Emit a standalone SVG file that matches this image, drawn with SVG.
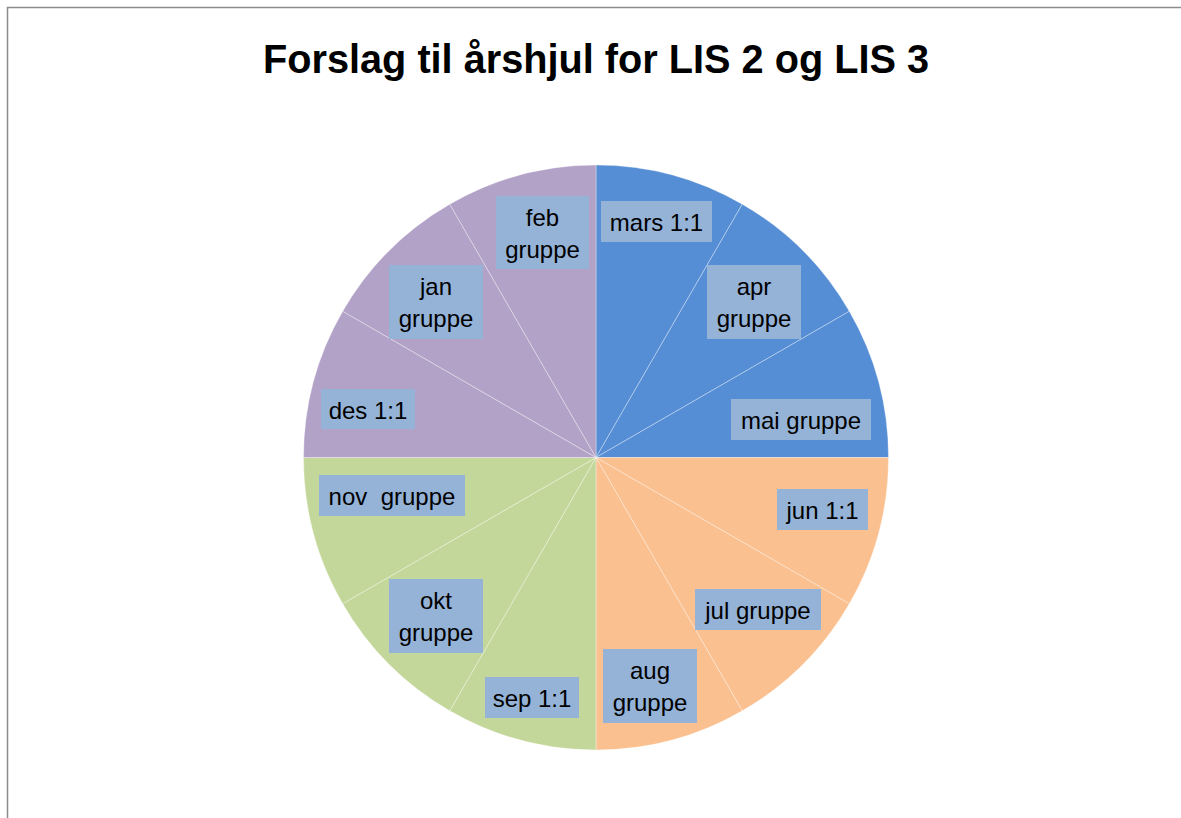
<svg xmlns="http://www.w3.org/2000/svg" width="1181" height="818" viewBox="0 0 1181 818">
<style>
.frame{fill:#ffffff;stroke:#8c8c8c;stroke-width:1.5}
.title{font-family:"Liberation Sans",Arial,sans-serif;font-weight:bold;font-size:40px;fill:#000000;text-anchor:middle}
.s{stroke:#ffffff;stroke-opacity:0.55;stroke-width:0.6}
.q1{fill:#558ed5}
.q2{fill:#fac090}
.q3{fill:#c4d79b}
.q4{fill:#b3a2c7}
.box{fill:#95b3d7}
.lbl{font-family:"Liberation Sans",Arial,sans-serif;font-size:24px;fill:#000000;text-anchor:middle}
</style>
<rect class="frame" x="7.5" y="7.5" width="1180" height="820"/>
<text class="title" x="596" y="73" textLength="666" lengthAdjust="spacingAndGlyphs">Forslag til årshjul for LIS 2 og LIS 3</text>
<g id="pie">
<path id="slice-mars" class="s q1" d="M596,457.5 L596,165 A292.5,292.5 0 0 1 742.25,204.19 Z"/>
<path id="slice-apr" class="s q1" d="M596,457.5 L742.25,204.19 A292.5,292.5 0 0 1 849.31,311.25 Z"/>
<path id="slice-mai" class="s q1" d="M596,457.5 L849.31,311.25 A292.5,292.5 0 0 1 888.5,457.5 Z"/>
<path id="slice-jun" class="s q2" d="M596,457.5 L888.5,457.5 A292.5,292.5 0 0 1 849.31,603.75 Z"/>
<path id="slice-jul" class="s q2" d="M596,457.5 L849.31,603.75 A292.5,292.5 0 0 1 742.25,710.81 Z"/>
<path id="slice-aug" class="s q2" d="M596,457.5 L742.25,710.81 A292.5,292.5 0 0 1 596,750 Z"/>
<path id="slice-sep" class="s q3" d="M596,457.5 L596,750 A292.5,292.5 0 0 1 449.75,710.81 Z"/>
<path id="slice-okt" class="s q3" d="M596,457.5 L449.75,710.81 A292.5,292.5 0 0 1 342.69,603.75 Z"/>
<path id="slice-nov" class="s q3" d="M596,457.5 L342.69,603.75 A292.5,292.5 0 0 1 303.5,457.5 Z"/>
<path id="slice-des" class="s q4" d="M596,457.5 L303.5,457.5 A292.5,292.5 0 0 1 342.69,311.25 Z"/>
<path id="slice-jan" class="s q4" d="M596,457.5 L342.69,311.25 A292.5,292.5 0 0 1 449.75,204.19 Z"/>
<path id="slice-feb" class="s q4" d="M596,457.5 L449.75,204.19 A292.5,292.5 0 0 1 596,165 Z"/>
</g>
<g id="label-mars"><rect class="box" x="601" y="201" width="111" height="41"/><text class="lbl" x="656.5" y="231">mars 1:1</text></g>
<g id="label-apr"><rect class="box" x="707" y="265" width="94" height="74"/><text class="lbl" x="754" y="295">apr</text><text class="lbl" x="754" y="327">gruppe</text></g>
<g id="label-mai"><rect class="box" x="731" y="399" width="140" height="41"/><text class="lbl" x="801" y="429">mai gruppe</text></g>
<g id="label-jun"><rect class="box" x="777" y="489" width="91" height="41"/><text class="lbl" x="822.5" y="519">jun 1:1</text></g>
<g id="label-jul"><rect class="box" x="695" y="589" width="126" height="41"/><text class="lbl" x="758" y="619">jul gruppe</text></g>
<g id="label-aug"><rect class="box" x="603" y="649" width="94" height="74"/><text class="lbl" x="650" y="679">aug</text><text class="lbl" x="650" y="711">gruppe</text></g>
<g id="label-sep"><rect class="box" x="485" y="677" width="94" height="41"/><text class="lbl" x="532" y="707">sep 1:1</text></g>
<g id="label-okt"><rect class="box" x="389" y="579" width="94" height="74"/><text class="lbl" x="436" y="609">okt</text><text class="lbl" x="436" y="641">gruppe</text></g>
<g id="label-nov"><rect class="box" x="319" y="475" width="146" height="41"/><text class="lbl" x="392" y="505" xml:space="preserve">nov  gruppe</text></g>
<g id="label-des"><rect class="box" x="321" y="389" width="94" height="40"/><text class="lbl" x="368" y="419">des 1:1</text></g>
<g id="label-jan"><rect class="box" x="389" y="265" width="94" height="74"/><text class="lbl" x="436" y="295">jan</text><text class="lbl" x="436" y="327">gruppe</text></g>
<g id="label-feb"><rect class="box" x="496" y="196" width="93" height="73"/><text class="lbl" x="542.5" y="226">feb</text><text class="lbl" x="542.5" y="258">gruppe</text></g>
</svg>
